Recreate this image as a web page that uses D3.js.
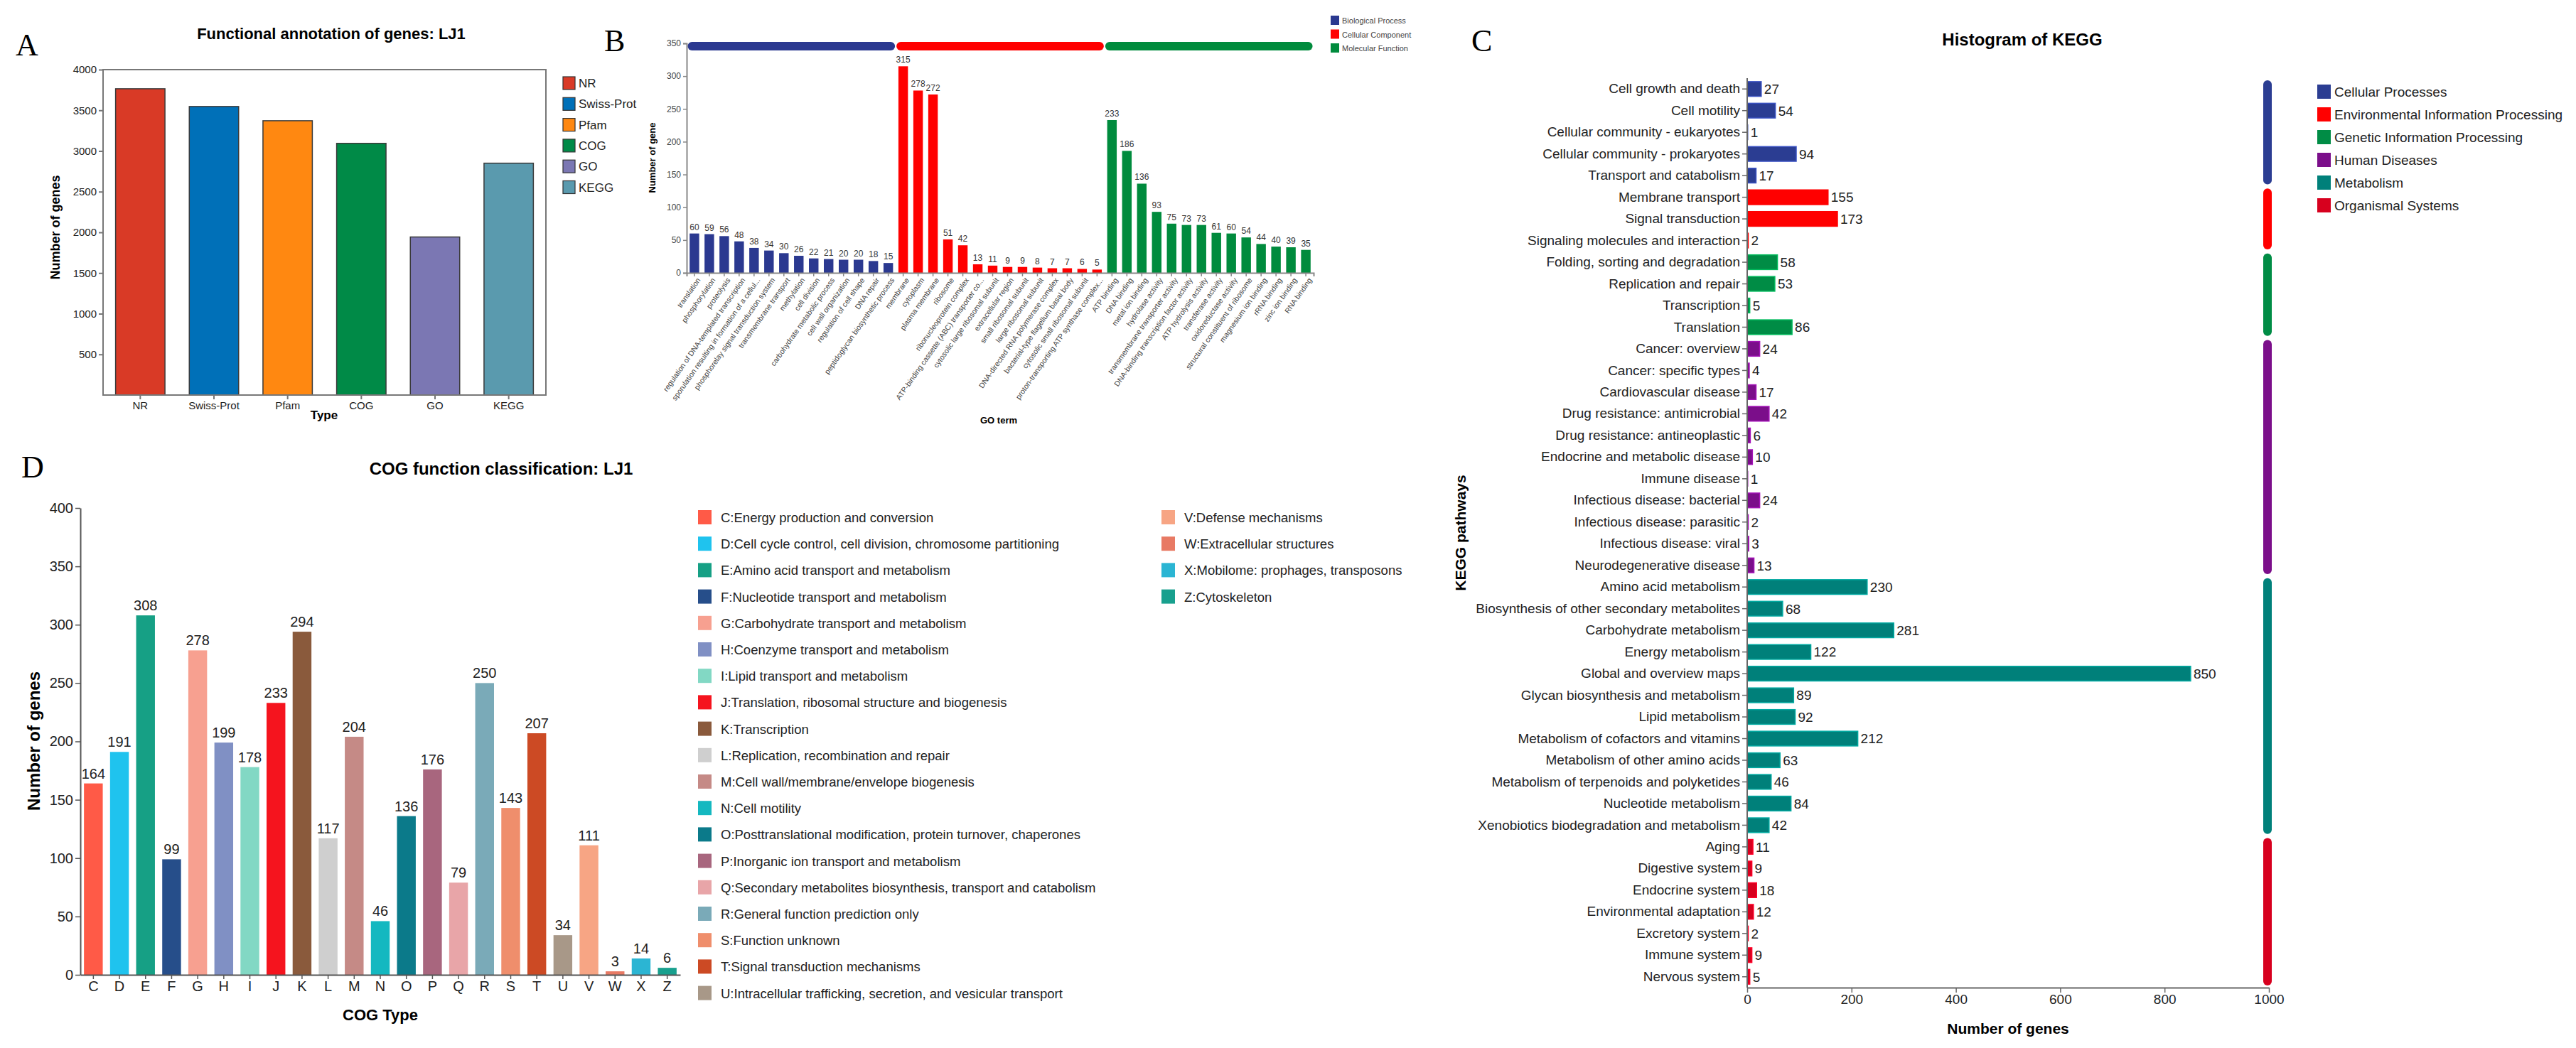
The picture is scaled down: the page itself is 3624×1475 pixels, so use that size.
<!DOCTYPE html>
<html>
<head>
<meta charset="utf-8">
<script src="https://cdn.jsdelivr.net/npm/d3@7"></script>
<style>
  body { margin: 0; background: #fff; }
  text { font-family: "Liberation Sans", Arial, sans-serif; }
  .narrow { font-family: "Liberation Sans Narrow", "Arial Narrow", "Liberation Sans", sans-serif; }
  .letter { font-family: "Liberation Serif", "Times New Roman", serif; }
</style>
</head>
<body>
<div id="fig"></div>
<script>
// ---- A: functional annotation
const annotTypes = ["NR", "Swiss-Prot", "Pfam", "COG", "GO", "KEGG"];
const annotCounts = [3765, 3547, 3372, 3094, 1943, 2850];
const annotColors = ["#d93a26", "#0070b8", "#ff8811", "#008a47", "#7b77b3", "#5a9aae"];

// ---- B: GO terms
const goGroups = ["Biological Process", "Cellular Component", "Molecular Function"];
const goGroupColors = ["#2b3990", "#ff0000", "#008b3d"];
const goBP = ["translation", "phosphorylation", "proteolysis", "regulation of DNA-templated transcription",
  "sporulation resulting in formation of a cellul...", "phosphorelay signal transduction system",
  "transmembrane transport", "methylation", "cell division", "carbohydrate metabolic process",
  "cell wall organization", "regulation of cell shape", "DNA repair", "peptidoglycan biosynthetic process"];
const goBPVals = [60, 59, 56, 48, 38, 34, 30, 26, 22, 21, 20, 20, 18, 15];
const goCC = ["membrane", "cytoplasm", "plasma membrane", "ribosome", "ribonucleoprotein complex",
  "ATP-binding cassette (ABC) transporter co...", "cytosolic large ribosomal subunit", "extracellular region",
  "small ribosomal subunit", "large ribosomal subunit", "DNA-directed RNA polymerase complex",
  "bacterial-type flagellum basal body", "cytosolic small ribosomal subunit", "proton-transporting ATP synthase complex..."];
const goCCVals = [315, 278, 272, 51, 42, 13, 11, 9, 9, 8, 7, 7, 6, 5];
const goMF = ["ATP binding", "DNA binding", "metal ion binding", "hydrolase activity",
  "transmembrane transporter activity", "DNA-binding transcription factor activity", "ATP hydrolysis activity",
  "transferase activity", "oxidoreductase activity", "structural constituent of ribosome",
  "magnesium ion binding", "rRNA binding", "zinc ion binding", "RNA binding"];
const goMFVals = [233, 186, 136, 93, 75, 73, 73, 61, 60, 54, 44, 40, 39, 35];
const goTicks = [0, 50, 100, 150, 200, 250, 300, 350];

// ---- C: KEGG
const keggGroups = ["Cellular Processes", "Environmental Information Processing", "Genetic Information Processing",
  "Human Diseases", "Metabolism", "Organismal Systems"];
const keggGroupColors = ["#2b3d92", "#ff0000", "#008c45", "#7b0e8a", "#00807a", "#d7001e"];
const keggGroupSizes = [5, 3, 4, 11, 12, 7];
const keggPathways = ["Cell growth and death", "Cell motility", "Cellular community - eukaryotes",
  "Cellular community - prokaryotes", "Transport and catabolism",
  "Membrane transport", "Signal transduction", "Signaling molecules and interaction",
  "Folding, sorting and degradation", "Replication and repair", "Transcription", "Translation",
  "Cancer: overview", "Cancer: specific types", "Cardiovascular disease", "Drug resistance: antimicrobial",
  "Drug resistance: antineoplastic", "Endocrine and metabolic disease", "Immune disease",
  "Infectious disease: bacterial", "Infectious disease: parasitic", "Infectious disease: viral",
  "Neurodegenerative disease",
  "Amino acid metabolism", "Biosynthesis of other secondary metabolites", "Carbohydrate metabolism",
  "Energy metabolism", "Global and overview maps", "Glycan biosynthesis and metabolism", "Lipid metabolism",
  "Metabolism of cofactors and vitamins", "Metabolism of other amino acids",
  "Metabolism of terpenoids and polyketides", "Nucleotide metabolism", "Xenobiotics biodegradation and metabolism",
  "Aging", "Digestive system", "Endocrine system", "Environmental adaptation", "Excretory system",
  "Immune system", "Nervous system"];
const keggCounts = [27, 54, 1, 94, 17, 155, 173, 2, 58, 53, 5, 86, 24, 4, 17, 42, 6, 10, 1, 24, 2, 3, 13,
  230, 68, 281, 122, 850, 89, 92, 212, 63, 46, 84, 42, 11, 9, 18, 12, 2, 9, 5];
const keggTicks = [0, 200, 400, 600, 800, 1000];

// ---- D: COG
const cogCodes = ["C", "D", "E", "F", "G", "H", "I", "J", "K", "L", "M", "N", "O", "P", "Q", "R", "S", "T", "U", "V", "W", "X", "Z"];
const cogCounts = [164, 191, 308, 99, 278, 199, 178, 233, 294, 117, 204, 46, 136, 176, 79, 250, 143, 207, 34, 111, 3, 14, 6];
const cogNames = ["Energy production and conversion", "Cell cycle control, cell division, chromosome partitioning",
  "Amino acid transport and metabolism", "Nucleotide transport and metabolism", "Carbohydrate transport and metabolism",
  "Coenzyme transport and metabolism", "Lipid transport and metabolism", "Translation, ribosomal structure and biogenesis",
  "Transcription", "Replication, recombination and repair", "Cell wall/membrane/envelope biogenesis", "Cell motility",
  "Posttranslational modification, protein turnover, chaperones", "Inorganic ion transport and metabolism",
  "Secondary metabolites biosynthesis, transport and catabolism", "General function prediction only",
  "Function unknown", "Signal transduction mechanisms", "Intracellular trafficking, secretion, and vesicular transport",
  "Defense mechanisms", "Extracellular structures", "Mobilome: prophages, transposons", "Cytoskeleton"];
const cogColors = ["#ff5a47", "#1fc3ee", "#16a085", "#264e8a", "#f7a090", "#8090c4", "#82d8c4", "#f5141e",
  "#8a5a3c", "#cfcfcf", "#c58a86", "#14b8c0", "#0b7a8a", "#a8667e", "#e8a5a8", "#7aaab8", "#ef8e6c",
  "#cc4a24", "#a89888", "#f7a584", "#e87a64", "#2bb5d3", "#18a08e"];
const cogTicks = [0, 50, 100, 150, 200, 250, 300, 350, 400];

const svg = d3.select("#fig").append("svg")
  .attr("width", 3624).attr("height", 1475);
const fmt = d3.format("d");

function panelLetter(x, y, t) {
  svg.append("text").attr("class", "letter").attr("x", x).attr("y", y)
    .style("font-size", "44px").text(t);
}

// ================= A =================
{
  const g = svg.append("g");
  const x = d3.scaleBand().domain(annotTypes).range([145, 768]).paddingInner(0.33).paddingOuter(0.17);
  const y = d3.scaleLinear().domain([0, 4000]).range([556, 98]);

  panelLetter(22, 78, "A");
  g.append("text").attr("x", 466).attr("y", 55).attr("text-anchor", "middle")
    .style("font-size", "22px").style("font-weight", "bold").text("Functional annotation of genes: LJ1");

  g.selectAll("rect.bar").data(annotTypes).enter().append("rect")
    .attr("class", "bar")
    .attr("x", d => x(d)).attr("width", x.bandwidth())
    .attr("y", (d, i) => y(annotCounts[i])).attr("height", (d, i) => y(0) - y(annotCounts[i]))
    .attr("fill", (d, i) => annotColors[i]).attr("stroke", "#3a3a3a").attr("stroke-width", 1.5);

  g.append("rect").attr("x", 145).attr("y", 98).attr("width", 623).attr("height", 458)
    .attr("fill", "none").attr("stroke", "#777").attr("stroke-width", 2);

  const ya = g.append("g").attr("transform", "translate(145,0)")
    .call(d3.axisLeft(y).tickValues(d3.range(500, 4001, 500)).tickFormat(fmt).tickSize(6));
  const xa = g.append("g").attr("transform", "translate(0,556)")
    .call(d3.axisBottom(x).tickSize(6));
  [ya, xa].forEach(a => {
    a.select(".domain").remove();
    a.selectAll("line").attr("stroke", "#777").attr("stroke-width", 2);
    a.selectAll("text").style("font-size", "15px").attr("fill", "#222");
  });

  g.append("text").attr("transform", "translate(84,320) rotate(-90)").attr("text-anchor", "middle")
    .style("font-size", "18px").style("font-weight", "bold").text("Number of genes");
  g.append("text").attr("x", 456).attr("y", 590).attr("text-anchor", "middle")
    .style("font-size", "17px").style("font-weight", "bold").text("Type");

  const leg = g.selectAll("g.leg").data(annotTypes).enter().append("g")
    .attr("transform", (d, i) => "translate(792," + (108 + i * 29.3) + ")");
  leg.append("rect").attr("width", 17).attr("height", 18)
    .attr("fill", (d, i) => annotColors[i]).attr("stroke", "#333").attr("stroke-width", 1.2);
  leg.append("text").attr("x", 22).attr("y", 15).style("font-size", "17px").attr("fill", "#222").text(d => d);
}

// ================= B =================
{
  const g = svg.append("g");
  const groups = [goBP, goCC, goMF];
  const vals = [goBPVals, goCCVals, goMFVals];
  const terms = [], values = [], colors = [];
  groups.forEach((arr, gi) => arr.forEach((t, i) => {
    terms.push(t); values.push(vals[gi][i]); colors.push(goGroupColors[gi]);
  }));

  const x = d3.scaleBand().domain(terms).range([966, 1848]).paddingInner(0.36).paddingOuter(0.2);
  const y = d3.scaleLinear().domain([0, 350]).range([384, 61]);

  panelLetter(850, 72, "B");

  // group bars along the top
  groups.forEach((arr, gi) => {
    const x0 = x(arr[0]) - x.step() * x.paddingInner() / 2;
    const x1 = x(arr[arr.length - 1]) + x.bandwidth() + x.step() * x.paddingInner() / 2;
    g.append("line").attr("x1", x0 + 7).attr("x2", x1 - 7).attr("y1", y(350) + 4).attr("y2", y(350) + 4)
      .attr("stroke", goGroupColors[gi]).attr("stroke-width", 12).attr("stroke-linecap", "round");
  });

  g.selectAll("rect.bar").data(terms).enter().append("rect")
    .attr("x", d => x(d)).attr("width", x.bandwidth())
    .attr("y", (d, i) => y(values[i])).attr("height", (d, i) => y(0) - y(values[i]))
    .attr("fill", (d, i) => colors[i]);

  g.selectAll("text.val").data(terms).enter().append("text")
    .attr("x", d => x(d) + x.bandwidth() / 2).attr("y", (d, i) => y(values[i]) - 5)
    .attr("text-anchor", "middle").style("font-size", "12px").attr("fill", "#333")
    .text((d, i) => values[i]);

  const ya = g.append("g").attr("transform", "translate(966,0)")
    .call(d3.axisLeft(y).tickValues(goTicks).tickSize(5));
  const xa = g.append("g").attr("transform", "translate(0,384)")
    .call(d3.axisBottom(x).tickSize(5));
  [ya, xa].forEach(a => {
    a.select(".domain").attr("stroke", "#888").attr("stroke-width", 2);
    a.selectAll("line").attr("stroke", "#888").attr("stroke-width", 1.5);
  });
  ya.selectAll("text").style("font-size", "12px").attr("fill", "#444");
  xa.selectAll("text").style("font-size", "10.5px").attr("fill", "#444")
    .attr("text-anchor", "end").attr("dx", "-0.3em").attr("dy", "0.5em")
    .attr("transform", "rotate(-55)");

  g.append("text").attr("transform", "translate(922,222) rotate(-90)").attr("text-anchor", "middle")
    .style("font-size", "13px").style("font-weight", "bold").text("Number of gene");
  g.append("text").attr("x", 1405).attr("y", 596).attr("text-anchor", "middle")
    .style("font-size", "13px").style("font-weight", "bold").text("GO term");

  const leg = g.selectAll("g.leg").data(goGroups).enter().append("g")
    .attr("transform", (d, i) => "translate(1872," + (22 + i * 19.5) + ")");
  leg.append("rect").attr("width", 12).attr("height", 13).attr("fill", (d, i) => goGroupColors[i]);
  leg.append("text").attr("x", 16).attr("y", 11).style("font-size", "11px").attr("fill", "#444").text(d => d);
}

// ================= C =================
{
  const g = svg.append("g");
  const y = d3.scaleBand().domain(keggPathways).range([110, 1390]).paddingInner(0.32).paddingOuter(0.16);
  const x = d3.scaleLinear().domain([0, 1000]).range([2458, 3192]);
  const groupOf = [];
  keggGroupSizes.forEach((n, gi) => { for (let k = 0; k < n; k++) groupOf.push(gi); });

  panelLetter(2070, 72, "C");
  g.append("text").attr("x", 2845).attr("y", 64).attr("text-anchor", "middle")
    .style("font-size", "24px").style("font-weight", "bold").text("Histogram of KEGG");

  g.selectAll("rect.bar").data(keggPathways).enter().append("rect")
    .attr("x", x(0)).attr("y", d => y(d))
    .attr("width", (d, i) => x(keggCounts[i]) - x(0)).attr("height", y.bandwidth())
    .attr("fill", (d, i) => keggGroupColors[groupOf[i]])
    .attr("stroke", (d, i) => d3.color(keggGroupColors[groupOf[i]]).brighter(0.8)).attr("stroke-width", 1.5);

  g.selectAll("text.val").data(keggPathways).enter().append("text")
    .attr("class", "narrow")
    .attr("x", (d, i) => x(keggCounts[i]) + 4).attr("y", d => y(d) + y.bandwidth() / 2)
    .attr("dy", "0.36em").style("font-size", "19px").attr("fill", "#222")
    .text((d, i) => keggCounts[i]);

  const ya = g.append("g").attr("transform", "translate(2458,0)")
    .call(d3.axisLeft(y).tickSize(7).tickSizeOuter(0));
  const xa = g.append("g").attr("transform", "translate(0,1390)")
    .call(d3.axisBottom(x).tickValues(keggTicks).tickFormat(fmt).tickSize(7).tickSizeOuter(0));
  [ya, xa].forEach(a => {
    a.select(".domain").attr("stroke", "#666").attr("stroke-width", 2);
    a.selectAll("line").attr("stroke", "#666").attr("stroke-width", 1.5);
    a.selectAll("text").attr("class", "narrow").style("font-size", "19px").attr("fill", "#222");
  });
  ya.select(".domain").attr("d", "M0,110V1390");

  // group side bars
  let start = 0;
  keggGroupSizes.forEach((n, gi) => {
    const top = y(keggPathways[start]) - 2;
    const bot = y(keggPathways[start + n - 1]) + y.bandwidth() + 2;
    g.append("line").attr("x1", 3190).attr("x2", 3190).attr("y1", top + 6).attr("y2", bot - 6)
      .attr("stroke", keggGroupColors[gi]).attr("stroke-width", 12).attr("stroke-linecap", "round");
    start += n;
  });

  g.append("text").attr("transform", "translate(2062,750) rotate(-90)").attr("text-anchor", "middle")
    .style("font-size", "21px").style("font-weight", "bold").text("KEGG pathways");
  g.append("text").attr("x", 2825).attr("y", 1455).attr("text-anchor", "middle")
    .style("font-size", "21px").style("font-weight", "bold").text("Number of genes");

  const leg = g.selectAll("g.leg").data(keggGroups).enter().append("g")
    .attr("transform", (d, i) => "translate(3260," + (119 + i * 32) + ")");
  leg.append("rect").attr("width", 19).attr("height", 20).attr("fill", (d, i) => keggGroupColors[i]);
  leg.append("text").attr("class", "narrow").attr("x", 24).attr("y", 17)
    .style("font-size", "19px").attr("fill", "#222").text(d => d);
}

// ================= D =================
{
  const g = svg.append("g");
  const x = d3.scaleBand().domain(cogCodes).range([113, 957]).paddingInner(0.28).paddingOuter(0.14);
  const y = d3.scaleLinear().domain([0, 400]).range([1372, 715]);

  panelLetter(30, 672, "D");
  g.append("text").attr("x", 705).attr("y", 668).attr("text-anchor", "middle")
    .style("font-size", "24px").style("font-weight", "bold").text("COG function classification: LJ1");

  g.selectAll("rect.bar").data(cogCodes).enter().append("rect")
    .attr("x", d => x(d)).attr("width", x.bandwidth())
    .attr("y", (d, i) => y(cogCounts[i])).attr("height", (d, i) => y(0) - y(cogCounts[i]))
    .attr("fill", (d, i) => cogColors[i]);

  g.selectAll("text.val").data(cogCodes).enter().append("text")
    .attr("x", d => x(d) + x.bandwidth() / 2).attr("y", (d, i) => y(cogCounts[i]) - 7)
    .attr("text-anchor", "middle").style("font-size", "20px").attr("fill", "#222")
    .text((d, i) => cogCounts[i]);

  const ya = g.append("g").attr("transform", "translate(113,0)")
    .call(d3.axisLeft(y).tickValues(cogTicks).tickSize(7).tickSizeOuter(0));
  const xa = g.append("g").attr("transform", "translate(0,1372)")
    .call(d3.axisBottom(x).tickSize(6).tickSizeOuter(0));
  [ya, xa].forEach(a => {
    a.select(".domain").attr("stroke", "#555").attr("stroke-width", 2);
    a.selectAll("line").attr("stroke", "#555").attr("stroke-width", 1.5);
    a.selectAll("text").style("font-size", "20px").attr("fill", "#222");
  });

  g.append("text").attr("transform", "translate(56,1043) rotate(-90)").attr("text-anchor", "middle")
    .style("font-size", "24px").style("font-weight", "bold").text("Number of genes");
  g.append("text").attr("x", 535).attr("y", 1436).attr("text-anchor", "middle")
    .style("font-size", "22px").style("font-weight", "bold").text("COG Type");

  const leg = g.selectAll("g.leg").data(cogCodes).enter().append("g")
    .attr("transform", (d, i) => i < 19
      ? "translate(982," + (718 + i * 37.2) + ")"
      : "translate(1634," + (718 + (i - 19) * 37.2) + ")");
  leg.append("rect").attr("width", 19).attr("height", 20).attr("fill", (d, i) => cogColors[i]);
  leg.append("text").attr("x", 32).attr("y", 17).style("font-size", "18.5px").attr("fill", "#222")
    .text((d, i) => d + ":" + cogNames[i]);
}
</script>
</body>
</html>
